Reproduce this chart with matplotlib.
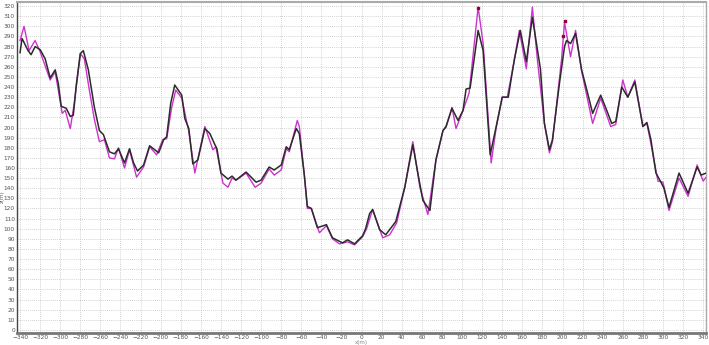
import numpy as np
import matplotlib
matplotlib.use('Agg')
import matplotlib.pyplot as plt
from matplotlib.ticker import MultipleLocator

# dark profile (x, y)
dark_x = [-340, -338, -332, -329, -325, -320, -315, -310, -305, -302, -299, -294, -290, -287,
          -284, -280, -277, -272, -266, -261, -257, -251, -246, -242, -236, -231, -227, -223,
          -217, -211, -202, -197, -194, -190, -186, -179, -176, -172, -168, -163, -156, -151,
          -146, -144, -140, -133, -129, -125, -115, -105, -100, -92, -87, -80, -75, -72, -65,
          -62, -57, -54, -50, -44, -35, -29, -19, -14, -7, 1, 4, 8, 11, 18, 24, 34, 43, 51, 56,
          61, 68, 74, 81, 84, 90, 96, 101, 104, 108, 116, 121, 128, 134, 140, 146, 152, 158,
          164, 170, 175, 178, 182, 187, 190, 197, 202, 204, 208, 213, 219, 225, 230, 238, 244,
          249, 253, 259, 265, 272, 280, 284, 288, 293, 298, 301, 306, 316, 325, 334, 338, 343]
dark_y = [274, 288, 276, 272, 280, 277, 268, 249, 257, 244, 221, 219, 211, 212,
          242, 273, 276, 257, 220, 197, 193, 176, 174, 179, 165, 179, 165, 157,
          163, 182, 175, 188, 191, 224, 242, 232, 209, 199, 164, 168, 199, 194,
          183, 179, 155, 149, 152, 148, 156, 146, 148, 161, 158, 163, 181, 178, 199,
          194, 153, 122, 120, 101, 104, 91, 86, 89, 85, 93, 100, 115, 119, 99, 94, 107, 141, 183, 155,
          128, 118, 168, 197, 201, 219, 207, 217, 238, 239, 296, 276, 173, 201, 230, 230, 267, 296,
          265, 309, 277, 258, 204, 178, 188, 244, 280, 286, 283, 293, 257, 234, 214, 232, 217,
          204, 206, 240, 230, 245, 201, 205, 188, 155, 146, 140, 121, 155, 135, 161, 153, 155]

# magenta profile (x, y)
mag_x = [-340, -336, -331, -325, -320, -310, -305, -298, -295, -290, -286, -280, -276, -271,
         -266, -261, -256, -251, -246, -242, -236, -231, -224, -217, -211, -204, -198, -194,
         -189, -185, -179, -172, -166, -156, -148, -145, -138, -133, -129, -125, -115, -106,
         -100, -92, -87, -80, -75, -72, -64, -62, -57, -54, -50, -42, -35, -29, -22, -14, -7,
         1, 5, 11, 21, 28, 35, 43, 51, 58, 66, 74, 81, 84, 90, 94, 101, 107, 116, 121, 129,
         134, 140, 145, 152, 157, 164, 170, 175, 182, 187, 190, 199, 202, 208, 213, 219, 223,
         230, 238, 248, 253, 260, 265, 272, 280, 284, 288, 295, 300, 306, 316, 325, 334, 340, 343]
mag_y = [286, 300, 276, 286, 275, 247, 255, 214, 217, 199, 224, 273, 268, 237,
         208, 186, 188, 170, 169, 180, 160, 178, 151, 161, 181, 173, 188, 189,
         220, 237, 229, 196, 155, 201, 178, 181, 145, 141, 150, 148, 155, 141,
         145, 159, 153, 158, 179, 176, 207, 201, 153, 120, 120, 96, 103, 90, 85, 87, 84,
         92, 100, 119, 91, 94, 106, 141, 186, 141, 114, 168, 197, 200, 220, 199, 217, 234, 319, 283, 165,
         200, 230, 230, 266, 296, 258, 319, 267, 204, 175, 186, 267, 304, 270, 296, 256, 237,
         204, 229, 201, 203, 247, 230, 247, 201, 204, 184, 147, 146, 118, 150, 132, 163, 147, 151]

# small marker points near the peaks
mark_x = [116, 200, 202]
mark_y = [318, 290, 305]

fig = plt.figure(figsize=(7.09, 3.45), dpi=100)
ax = fig.add_axes([0.024, 0.035, 0.972, 0.959])

ax.plot(mag_x, mag_y, color='#cc33cc', linewidth=1.0, zorder=3, solid_joinstyle='round')
ax.plot(dark_x, dark_y, color='#2b2b2b', linewidth=1.1, zorder=4, solid_joinstyle='round')
ax.scatter(mark_x, mark_y, s=2.5, marker='s', color='#990033', zorder=5)

ax.set_xlim(-343, 343)
ax.set_ylim(-3, 324)
ax.xaxis.set_major_locator(MultipleLocator(20))
ax.yaxis.set_major_locator(MultipleLocator(10))

ax.grid(True, ls=(0, (1, 1.5)), color='#c4c4c4', linewidth=0.6)
ax.set_axisbelow(True)

ax.tick_params(which='both', length=0, labelsize=4.2, labelcolor='#555555', pad=1.5)

ax.spines['left'].set_color('#444444')
ax.spines['left'].set_linewidth(1.0)
ax.spines['bottom'].set_color('#777777')
ax.spines['bottom'].set_linewidth(2.0)
ax.spines['top'].set_color('#aaaaaa')
ax.spines['top'].set_linewidth(1.5)
ax.spines['right'].set_color('#aaaaaa')
ax.spines['right'].set_linewidth(1.0)

fig.text(0.0, 0.43, 'z(m)', rotation=90, fontsize=4, color='#666666',
         ha='left', va='center')
fig.text(0.51, 0.0, 'x(m)', fontsize=4, color='#888888', ha='center', va='bottom')

plt.savefig('out.png', dpi=100)
